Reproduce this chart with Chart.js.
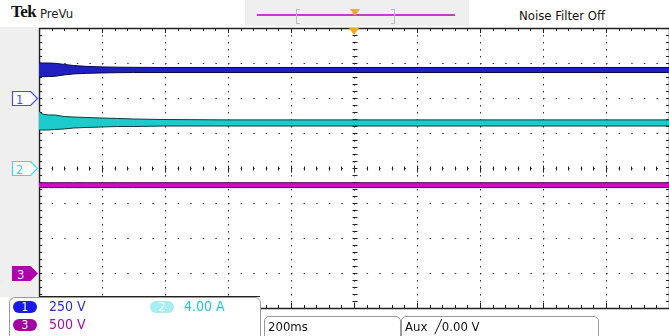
<!DOCTYPE html>
<html lang="en">
<head>
    <meta charset="UTF-8">
    <title>Tek PreVu</title>
    <script src="https://cdn.jsdelivr.net/npm/chart.js"></script>
    <style>
        body {
            margin: 0;
            width: 669px;
            height: 336px;
            overflow: hidden;
            background: #fff;
            position: relative;
            font-family: "Liberation Sans Narrow", "DejaVu Sans Condensed", "DejaVu Sans", sans-serif;
            font-stretch: condensed;
        }
        .abs { position: absolute; }
        .tek { left: 11px; top: 2px; font: bold 17px "Liberation Serif", "DejaVu Serif", serif; color: #111; letter-spacing: -0.5px; }
        .prevu { left: 40px; top: 6px; font-size: 13px; color: #222; }
        .noise { left: 519px; top: 8px; font-size: 13px; color: #111; }
        .topgray { left: 245px; top: 0; width: 224px; height: 26px; background: #efefef; }
        .timeline { left: 257px; top: 14px; width: 198px; height: 2px; background: #c040c0; }
        .bracket { top: 9px; width: 3px; height: 13px; border: 1px solid #bbb; }
        .tri { width: 0; height: 0; border-left: 5px solid transparent; border-right: 5px solid transparent; border-top: 7px solid #f5a623; }
        .leftstrip { left: 0; top: 27px; width: 38px; height: 270px; background: #efefef; }
        #wrap { left: 34px; top: 23px; }
        .marker { left: 11px; }
        .panel { left: 9px; top: 297px; width: 250px; height: 45px; background: #fff; border: 1px solid #999; border-radius: 6px; }
        .pill { width: 24px; height: 12px; border-radius: 6px; color: #fff; font-size: 12px; line-height: 12px; text-align: center; }
        .lbl { font-size: 14px; }
        .box { top: 316px; height: 24px; border: 1px solid #999; border-radius: 5px 5px 0 0; background: #fff; font-size: 13px; color: #111; padding-left: 3px; line-height: 20px; }
    </style>
</head>
<body>
    <div class="abs topgray"></div>
    <div class="abs tek">Tek</div>
    <div class="abs prevu">PreVu</div>
    <div class="abs timeline"></div>
    <div class="abs bracket" style="left:296px; border-right:none;"></div>
    <div class="abs bracket" style="left:391px; border-left:none;"></div>
    <div class="abs tri" style="left:350px; top:9px;"></div>
    <div class="abs noise">Noise Filter Off</div>
    <div class="abs leftstrip"></div>

    <div class="abs" id="wrap">
        <canvas id="scope" width="640" height="290"></canvas>
    </div>
    <div class="abs tri" style="left:349px; top:28px;"></div>

    <!-- channel ground markers, moved to the right height after the chart is drawn -->
    <svg class="abs marker" id="mk1" width="28" height="16">
        <polygon points="1.5,0.5 19.5,0.5 26.5,7.5 19.5,14.5 1.5,14.5" fill="#fff" stroke="#4a4af0" stroke-width="1.2"/>
        <text x="5" y="12.5" font-size="13" font-family="Liberation Sans Narrow, DejaVu Sans" fill="#4a4af0">1</text>
    </svg>
    <svg class="abs marker" id="mk2" width="28" height="16">
        <polygon points="1.5,0.5 19.5,0.5 26.5,7.5 19.5,14.5 1.5,14.5" fill="#fff" stroke="#38dcf0" stroke-width="1.2"/>
        <text x="5" y="12.5" font-size="13" font-family="Liberation Sans Narrow, DejaVu Sans" fill="#38dcf0">2</text>
    </svg>
    <svg class="abs marker" id="mk3" width="28" height="16">
        <polygon points="1,0 19.5,0 27,7.5 19.5,15 1,15" fill="#b000b0"/>
        <text x="6" y="12.5" font-size="13" font-family="Liberation Sans Narrow, DejaVu Sans" fill="#fff">3</text>
    </svg>

    <div class="abs" style="left:39px; top:296px; width:221px; height:1px; background:#222;"></div>
    <div class="abs panel"></div>
    <div class="abs pill" style="left:13px; top:301px; background:#1a1ae6;">1</div>
    <div class="abs lbl" style="left:49px; top:298px; color:#2b2bd6;">250 V</div>
    <div class="abs pill" style="left:150px; top:301px; background:#a6eef2;">2</div>
    <div class="abs lbl" style="left:184px; top:298px; color:#1ec8dc;">4.00 A</div>
    <div class="abs pill" style="left:13px; top:319px; background:#a000a0;">3</div>
    <div class="abs lbl" style="left:49px; top:316px; color:#a010a0;">500 V</div>

    <div class="abs box" style="left:264px; width:132px;">200ms</div>
    <div class="abs box" style="left:401px; width:193px;">Aux&nbsp;&nbsp;&#x2571;0.00 V</div>

    <script>
        // time axis in ms, 200 ms/div, trigger in the middle
        const timeMs = [-1000, -990, -970, -950, -920, -890, -850, -800, -750, -700, -600, -400, -200, 0, 200, 400, 600, 800, 1000];

        // channel 1 (250 V/div) envelope, volts
        const ch1Max = [252, 250, 250, 248, 240, 232, 226, 222, 220, 219, 218, 218, 218, 218, 218, 218, 218, 218, 218];
        const ch1Min = [150, 152, 153, 155, 165, 172, 176, 179, 181, 182, 182, 182, 182, 182, 182, 182, 182, 182, 182];

        // channel 2 (4.00 A/div) envelope, amps
        const ch2Max = [6.5, 6.17, 6.06, 6.06, 5.88, 5.83, 5.77, 5.71, 5.66, 5.6, 5.54, 5.5, 5.5, 5.5, 5.5, 5.5, 5.5, 5.5, 5.5];
        const ch2Min = [4.34, 4.34, 4.34, 4.4, 4.46, 4.57, 4.63, 4.69, 4.74, 4.74, 4.8, 4.8, 4.8, 4.8, 4.8, 4.8, 4.8, 4.8, 4.8];

        // channel 3 (500 V/div) envelope, volts
        const ch3Max = [1290, 1290, 1290, 1290, 1290, 1290, 1290, 1290, 1290, 1290, 1290, 1290, 1290, 1290, 1290, 1290, 1290, 1290, 1290];
        const ch3Min = [1220, 1220, 1220, 1220, 1220, 1220, 1220, 1220, 1220, 1220, 1220, 1220, 1220, 1220, 1220, 1220, 1220, 1220, 1220];

        function pts(values) {
            return timeMs.map((t, i) => ({ x: t, y: values[i] }));
        }

        function band(axis, values, fillTo, edge, fillColor) {
            return {
                data: pts(values),
                yAxisID: axis,
                borderColor: edge,
                borderWidth: 1,
                backgroundColor: fillColor,
                fill: fillTo,
                pointRadius: 0,
                tension: 0
            };
        }

        // graticule ticks along the frame and the centre lines
        const graticule = {
            id: 'graticule',
            beforeDatasetsDraw(chart) {
                const { ctx, chartArea: a, scales: { x, y } } = chart;
                const x0 = Math.round(x.getPixelForValue(0)) + 0.5;
                const y0 = Math.round(y.getPixelForValue(0)) + 0.5;
                const xStep = x.options.ticks.stepSize / 5;
                const yStep = y.options.ticks.stepSize / 5;
                ctx.save();
                ctx.strokeStyle = '#222';
                ctx.lineWidth = 1;
                ctx.beginPath();
                for (let t = x.min; t <= x.max + 1e-6; t += xStep) {
                    const px = Math.round(x.getPixelForValue(t)) + 0.5;
                    const major = Math.abs(t % x.options.ticks.stepSize) < 1e-6;
                    ctx.moveTo(px, a.top); ctx.lineTo(px, a.top + (major ? 5 : 3));
                    ctx.moveTo(px, a.bottom); ctx.lineTo(px, a.bottom - (major ? 5 : 3));
                    ctx.moveTo(px, y0 - (major ? 3 : 2)); ctx.lineTo(px, y0 + (major ? 4 : 2));
                }
                for (let d = y.min; d <= y.max + 1e-6; d += yStep) {
                    const py = Math.round(y.getPixelForValue(d)) + 0.5;
                    ctx.moveTo(a.left, py); ctx.lineTo(a.left + 3, py);
                    ctx.moveTo(a.right, py); ctx.lineTo(a.right - 3, py);
                    ctx.moveTo(x0 - 2, py); ctx.lineTo(x0 + 3, py);
                }
                ctx.stroke();
                ctx.lineWidth = 1.5;
                ctx.strokeRect(Math.round(a.left) + 0.5, Math.round(a.top) + 0.5, a.right - a.left, a.bottom - a.top);
                ctx.restore();
            },
            afterRender(chart) {
                // park the channel markers at each channel's zero level
                const top = chart.canvas.parentNode.offsetTop;
                [['mk1', 'y1'], ['mk2', 'y2'], ['mk3', 'y3']].forEach(([id, axis]) => {
                    const py = top + chart.scales[axis].getPixelForValue(0);
                    document.getElementById(id).style.top = Math.round(py - 7.5) + 'px';
                });
            }
        };

        new Chart(document.getElementById('scope'), {
            type: 'line',
            data: {
                datasets: [
                    band('y1', ch1Max, false, '#080840', '#2020c0'),
                    band('y1', ch1Min, '-1', '#080840', '#2020c0'),
                    band('y2', ch2Max, false, '#0a3a3a', '#1ccccc'),
                    band('y2', ch2Min, '-1', '#0a3a3a', '#1ccccc'),
                    band('y3', ch3Max, false, '#5a005a', '#c810c8'),
                    band('y3', ch3Min, '-1', '#5a005a', '#c810c8')
                ]
            },
            options: {
                responsive: false,
                animation: false,
                devicePixelRatio: 1,
                layout: { padding: { left: 5, top: 5, right: 5, bottom: 5 } },
                plugins: { legend: { display: false }, tooltip: { enabled: false } },
                scales: {
                    x: {
                        type: 'linear',
                        min: -1000,
                        max: 1000,
                        ticks: { display: false, stepSize: 200 },
                        grid: { color: '#333', lineWidth: 1, drawTicks: false },
                        border: { display: false, dash: [1.5, 5.5] }
                    },
                    // divisions, for the graticule
                    y: {
                        min: -4,
                        max: 4,
                        ticks: { display: false, stepSize: 1 },
                        grid: { color: '#333', lineWidth: 1, drawTicks: false },
                        border: { display: false, dash: [1.5, 11.1] }
                    },
                    y1: { display: false, min: -1500, max: 500 },
                    y2: { display: false, min: -16, max: 16 },
                    y3: { display: false, min: -500, max: 3500 }
                }
            },
            plugins: [graticule]
        });
    </script>
</body>
</html>
